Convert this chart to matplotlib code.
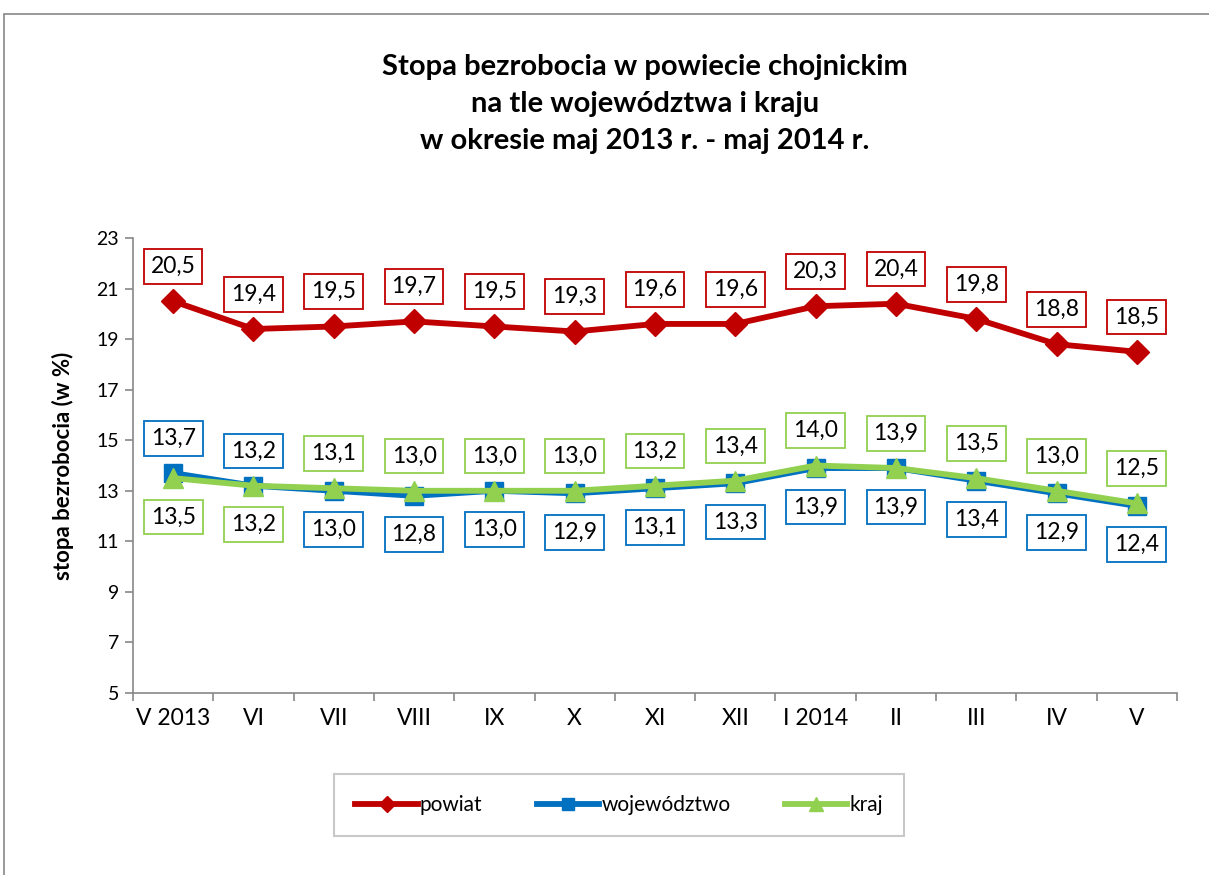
import matplotlib.pyplot as plt
from matplotlib.patches import Rectangle

plt.rcParams['font.family'] = ['Lato', 'DejaVu Sans']

months = ['V 2013', 'VI', 'VII', 'VIII', 'IX', 'X', 'XI', 'XII',
          'I 2014', 'II', 'III', 'IV', 'V']
powiat = [20.5, 19.4, 19.5, 19.7, 19.5, 19.3, 19.6, 19.6, 20.3, 20.4, 19.8, 18.8, 18.5]
wojewodztwo = [13.7, 13.2, 13.0, 12.8, 13.0, 12.9, 13.1, 13.3, 13.9, 13.9, 13.4, 12.9, 12.4]
kraj = [13.5, 13.2, 13.1, 13.0, 13.0, 13.0, 13.2, 13.4, 14.0, 13.9, 13.5, 13.0, 12.5]

red = '#C00000'
blue = '#0070C0'
green = '#92D050'

fig = plt.figure(figsize=(12.09, 8.75), dpi=100)
fig.patches.append(Rectangle((4 / 1209, -0.01), 1.2, 1 - 14 / 875 + 0.01,
                             transform=fig.transFigure, fill=False,
                             edgecolor='#888888', linewidth=1.2))

ax = fig.add_axes([133 / 1209, 1 - 693 / 875, 1044 / 1209, 455 / 875])
x = list(range(len(months)))

ax.plot(x, powiat, color=red, lw=4.2, marker='D', ms=12, label='powiat', zorder=3)
ax.plot(x, wojewodztwo, color=blue, lw=4.2, marker='s', ms=13, label='województwo', zorder=4)
ax.plot(x, kraj, color=green, lw=4.2, marker='^', ms=14, label='kraj', zorder=5)


def fmt(v):
    return f'{v:.1f}'.replace('.', ',')


def label(xi, v, color, up):
    dy = 25 if up else -28
    ax.annotate(fmt(v), (xi, v), xytext=(0, dy), textcoords='offset points',
                ha='center', va='center', fontsize=16.5, color='black', zorder=6,
                bbox=dict(boxstyle='square,pad=0.3', fc='white', ec=color, lw=1.3))


for i in x:
    label(i, powiat[i], red, True)
    label(i, wojewodztwo[i], blue, i < 2)
    label(i, kraj[i], green, i >= 2)

ax.set_xlim(-0.5, len(months) - 0.5)
ax.set_ylim(5, 23)
ax.set_yticks(range(5, 24, 2))
ax.set_xticks(x)
ax.set_xticklabels(months)
ax.set_xticks([i - 0.5 for i in range(len(months) + 1)], minor=True)
ax.tick_params(axis='x', which='major', length=0, labelsize=16.5, pad=11)
ax.tick_params(axis='x', which='minor', length=6, color='#888888', width=1.2)
ax.tick_params(axis='y', length=6, color='#888888', width=1.2, labelsize=14, pad=4)
for s in ['top', 'right']:
    ax.spines[s].set_visible(False)
for s in ['left', 'bottom']:
    ax.spines[s].set_color('#888888')
    ax.spines[s].set_linewidth(1.2)

ax.set_ylabel('stopa bezrobocia (w %)', fontsize=16, fontweight='bold', labelpad=16)

fig.text(645 / 1209, 1 - 104 / 875,
         'Stopa bezrobocia w powiecie chojnickim\nna tle województwa i kraju\nw okresie maj 2013 r. - maj 2014 r.',
         ha='center', va='center', fontsize=21, fontweight='bold', linespacing=1.5)

leg = fig.legend(loc='center', bbox_to_anchor=(619 / 1209, 1 - 805 / 875), ncol=3,
                 fontsize=15, frameon=True, fancybox=False, edgecolor='#bbbbbb',
                 handlelength=3.0, handletextpad=0.1, columnspacing=2.6,
                 borderpad=1.0, markerscale=0.7)
leg.get_frame().set_linewidth(1.5)

fig.savefig('out.png', dpi=100)
